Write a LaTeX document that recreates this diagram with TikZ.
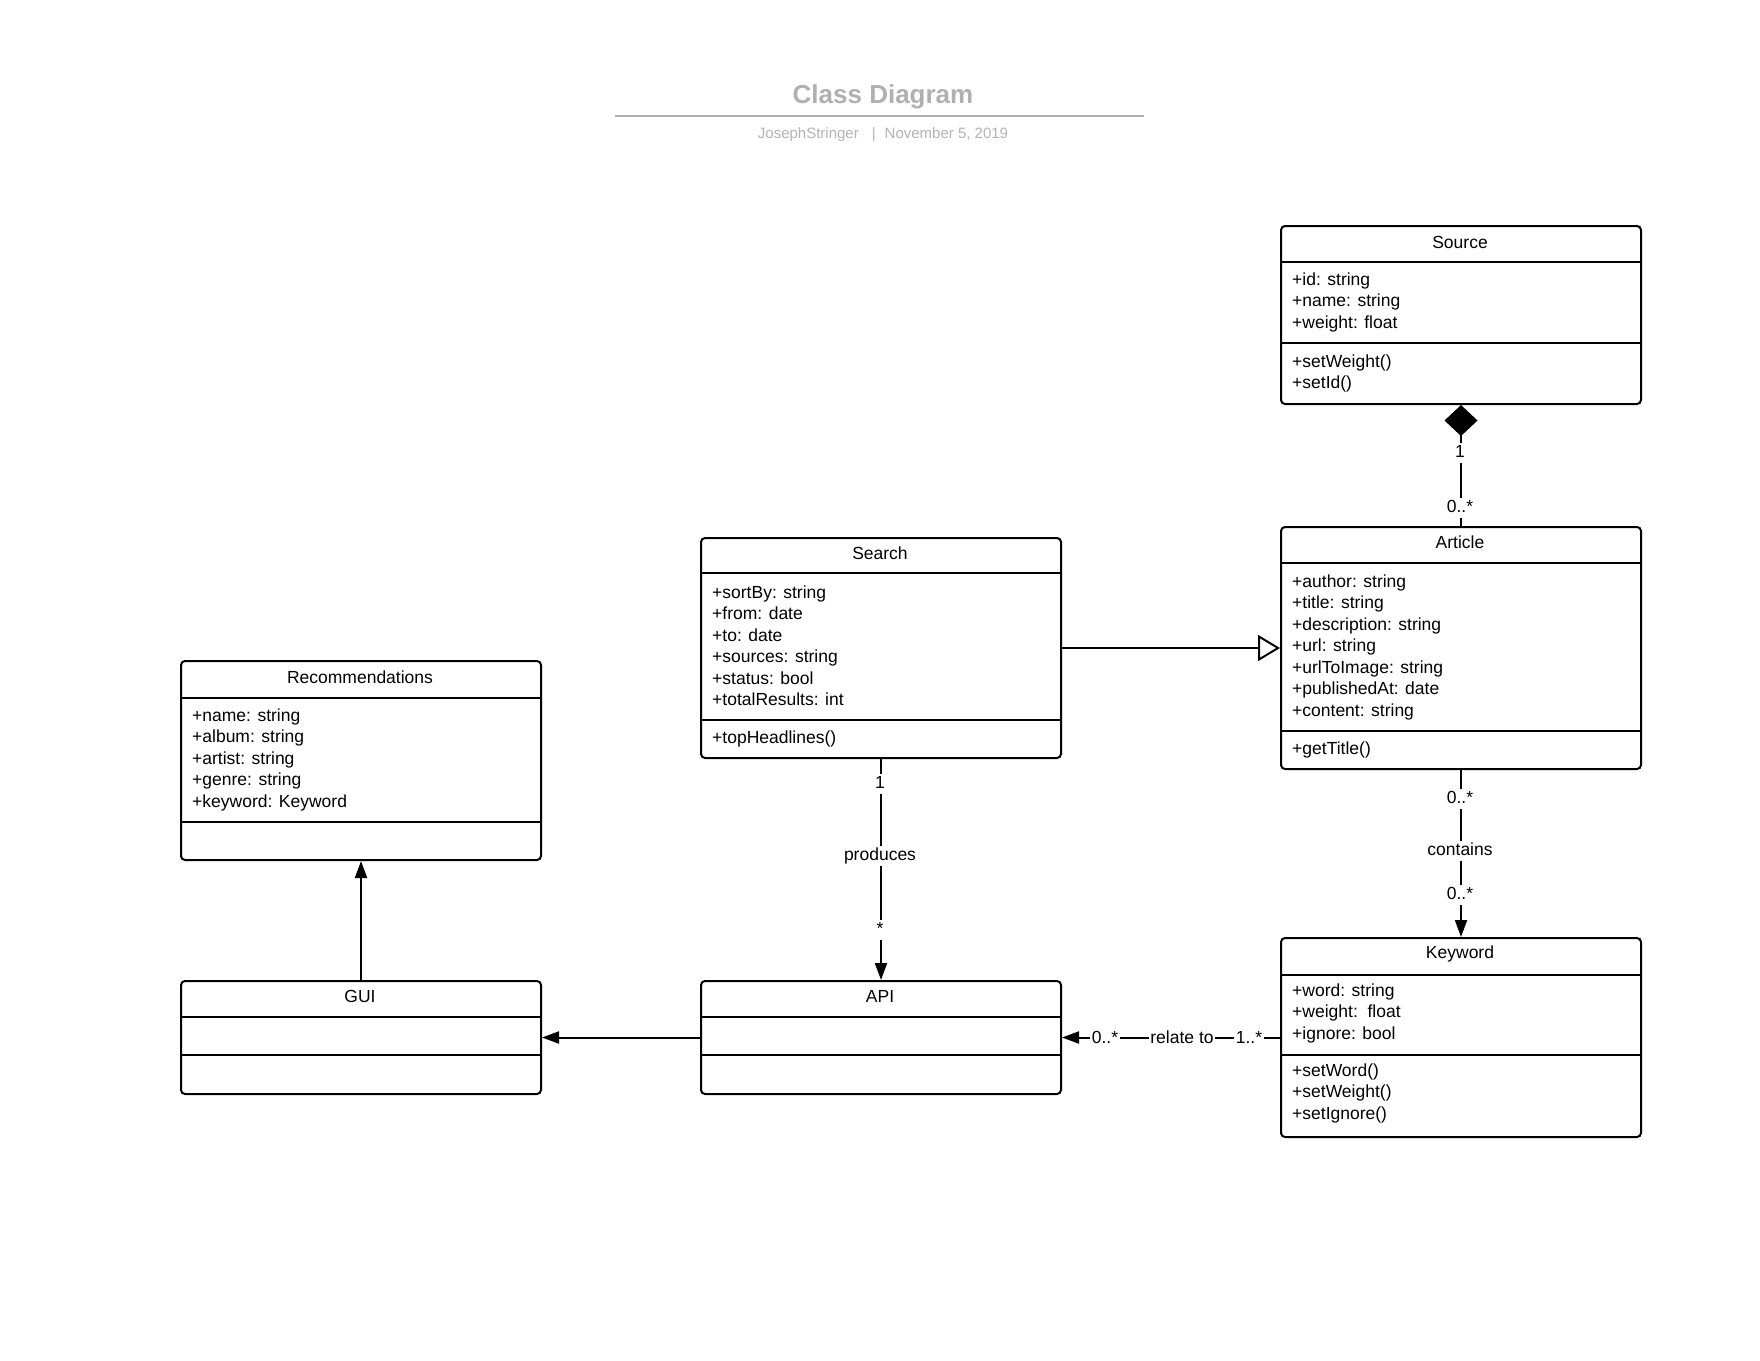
\documentclass[tikz,border=0pt]{standalone}
\usepackage{fontspec}
\setmainfont{Liberation Sans}
\usetikzlibrary{arrows.meta}
\definecolor{titlegray}{RGB}{176,176,176}
\definecolor{subgray}{RGB}{180,180,180}
\begin{document}
\begin{tikzpicture}[x=1pt,y=-1pt,
  cls/.style={draw, line width=2pt, rounded corners=4pt, fill=white, inner sep=0pt, anchor=north west, minimum width=360pt},
  sepline/.style={line width=2pt},
  txt/.style={inner sep=0pt, anchor=base west, font=\fontsize{17.5}{21.5}\selectfont},
  hdr/.style={inner sep=0pt, anchor=base, font=\fontsize{17.5}{21.5}\selectfont},
  lbl/.style={fill=white, inner xsep=1.5pt, inner ysep=1.5pt, text height=13pt, text depth=4pt, anchor=base, font=\fontsize{17.5}{21.5}\selectfont},
  conn/.style={line width=2pt},
  filled/.style={-{Triangle[length=17pt,width=12pt]}},
]
\useasboundingbox (0,0) rectangle (1760,1360);
\fill[white] (0,0) rectangle (1760,1360);

% title block
\node[font=\bfseries\fontsize{26}{30}\selectfont, text=titlegray, anchor=base, inner sep=0pt] (title) at (883,103) {Class Diagram};
\draw[titlegray, line width=2pt] (615,116) -- (1144,116);
\node[font=\fontsize{15}{18}\selectfont, text=subgray, anchor=base, inner sep=0pt] (subtitle) at (883,138) {JosephStringer\hspace{13pt}|\hspace{9pt}November 5, 2019};

% ---------- Source ----------
\node[cls, minimum height=178pt] (source) at (1280,225) {};
\draw[sepline] (1280,262) -- (1640,262);
\draw[sepline] (1280,343) -- (1640,343);
\node[hdr] (source-name) at (1460,248) {Source};
\foreach \t [count=\i] in {+id: string,+name: string,+weight: float}
  \node[txt] (source-a\i) at (1292,{285+(\i-1)*21.5}) {\t};
\foreach \t [count=\i] in {+setWeight(),+setId()}
  \node[txt] (source-m\i) at (1292,{367+(\i-1)*21.5}) {\t};

% ---------- Article ----------
\node[cls, minimum height=242pt] (article) at (1280,526) {};
\draw[sepline] (1280,563) -- (1640,563);
\draw[sepline] (1280,731) -- (1640,731);
\node[hdr] (article-name) at (1460,548) {Article};
\foreach \t [count=\i] in {+author: string,+title: string,+description: string,+url: string,+urlToImage: string,+publishedAt: date,+content: string}
  \node[txt] (article-a\i) at (1292,{587+(\i-1)*21.5}) {\t};
\node[txt] (article-m1) at (1292,754) {+getTitle()};

% ---------- Search ----------
\node[cls, minimum height=220pt] (search) at (700,537) {};
\draw[sepline] (700,573) -- (1060,573);
\draw[sepline] (700,720) -- (1060,720);
\node[hdr] (search-name) at (880,559) {Search};
\foreach \t [count=\i] in {+sortBy: string,+from: date,+to: date,+sources: string,+status: bool,+totalResults: int}
  \node[txt] (search-a\i) at (712,{598+(\i-1)*21.5}) {\t};
\node[txt] (search-m1) at (712,743) {+topHeadlines()};

% ---------- Recommendations ----------
\node[cls, minimum height=199pt] (rec) at (180,660) {};
\draw[sepline] (180,698) -- (540,698);
\draw[sepline] (180,822) -- (540,822);
\node[hdr] (rec-name) at (360,683) {Recommendations};
\foreach \t [count=\i] in {+name: string,+album: string,+artist: string,+genre: string,+keyword: Keyword}
  \node[txt] (rec-a\i) at (192,{721+(\i-1)*21.5}) {\t};

% ---------- GUI ----------
\node[cls, minimum height=113pt] (gui) at (180,980) {};
\draw[sepline] (180,1017) -- (540,1017);
\draw[sepline] (180,1055) -- (540,1055);
\node[hdr] (gui-name) at (360,1002) {GUI};

% ---------- API ----------
\node[cls, minimum height=113pt] (api) at (700,980) {};
\draw[sepline] (700,1017) -- (1060,1017);
\draw[sepline] (700,1055) -- (1060,1055);
\node[hdr] (api-name) at (880,1002) {API};

% ---------- Keyword ----------
\node[cls, minimum height=199pt] (keyword) at (1280,937) {};
\draw[sepline] (1280,975) -- (1640,975);
\draw[sepline] (1280,1055) -- (1640,1055);
\node[hdr] (keyword-name) at (1460,958) {Keyword};
\foreach \t [count=\i] in {+word: string,+weight:\ \ float,+ignore: bool}
  \node[txt] (keyword-a\i) at (1292,{996+(\i-1)*21.5}) {\t};
\foreach \t [count=\i] in {+setWord(),+setWeight(),+setIgnore()}
  \node[txt] (keyword-m\i) at (1292,{1076+(\i-1)*21.5}) {\t};

% ---------- connectors ----------
\draw[conn, -{Diamond[length=31pt,width=33pt]}] (article.north) -- (source.south);
\node[lbl] (ls1) at (1460,457) {1};
\node[lbl] (ls2) at (1460,512) {0..*};

\draw[conn, -{Triangle[open,length=22pt,width=26pt,fill=white]}] (search.east) -- (article.west);

\draw[conn, filled] (search.south) -- (api.north);
\node[lbl] (lp1) at (880,788) {1};
\node[lbl] (lp2) at (880,860) {produces};
\node[lbl] (lp3) at (880,934) {*};

\draw[conn, filled] (article.south) -- (keyword.north);
\node[lbl] (lc1) at (1460,803) {0..*};
\node[lbl] (lc2) at (1460,855) {contains};
\node[lbl] (lc3) at (1460,899) {0..*};

\draw[conn, filled] (keyword.west) -- (api.east);
\node[lbl] (lr1) at (1105,1043) {0..*};
\node[lbl] (lr2) at (1182,1043) {relate to};
\node[lbl] (lr3) at (1249,1043) {1..*};

\draw[conn, filled] (api.west) -- (gui.east);
\draw[conn, filled] (gui.north) -- (rec.south);
\end{tikzpicture}
\end{document}
